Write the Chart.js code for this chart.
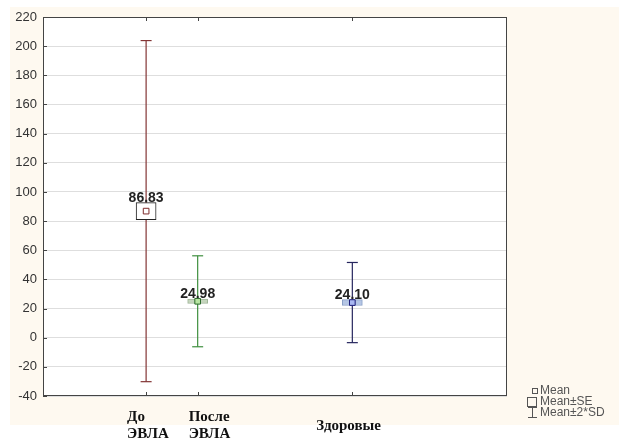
<!DOCTYPE html>
<html>
<head>
<meta charset="utf-8">
<script src="https://cdn.jsdelivr.net/npm/chart.js@4"></script>
<style>
html,body{margin:0;padding:0;background:#fff}
#wrap{width:619px;height:441px;position:relative}
</style>
</head>
<body>
<div id="wrap"><canvas id="chart"></canvas></div>
<script>
// groups and their stats
const groupLabels = [['До', 'ЭВЛА'], ['После', 'ЭВЛА'], ['Здоровые']];
const xPos = [2, 3, 6];
const means = [86.83, 24.98, 24.10];
const se = [5.8, 1.5, 2.0];
const sd2 = [117.0, 31.2, 27.5];
const legendNames = ['Mean', 'Mean±SE', 'Mean±2*SD'];

const lineCol = ['#833535', '#3f8f3f', '#26265e'];
const boxFill = ['#ffffff', '#c5d5bd', '#b5c6e5'];
const boxEdge = ['#222222', '#9fb598', '#8aa0c7'];
const dotFill = ['#ffffff', '#b8e4a2', '#a9b8f2'];
const dotEdge = ['#7d2b2b', '#2b6a2b', '#1c1c78'];

const whiskers = xPos.map((x, i) => ({
  type: 'line',
  order: 3,
  data: [{x: x, y: means[i] - sd2[i]}, {x: x, y: means[i] + sd2[i]}],
  borderColor: lineCol[i],
  borderWidth: 1.2,
  pointStyle: 'line',
  pointRadius: 5.5,
  pointBorderColor: lineCol[i],
  pointBorderWidth: 1.2,
  showLine: true
}));

const boxes = {
  type: 'bar',
  order: 2,
  data: xPos.map((x, i) => ({x: x, y: [means[i] - se[i], means[i] + se[i]]})),
  backgroundColor: boxFill,
  borderColor: boxEdge,
  borderWidth: 1,
  borderSkipped: false,
  barThickness: 20,
  grouped: false
};

const dots = {
  type: 'scatter',
  order: 1,
  data: xPos.map((x, i) => ({x: x, y: means[i]})),
  pointStyle: 'rect',
  pointRadius: 4,
  backgroundColor: dotFill,
  borderColor: dotEdge,
  borderWidth: 1
};

const background = {
  id: 'background',
  beforeDraw(chart) {
    const {ctx, chartArea: a} = chart;
    ctx.save();
    ctx.fillStyle = '#ffffff';
    ctx.fillRect(0, 0, chart.width, chart.height);
    ctx.fillStyle = '#fef9f0';
    ctx.fillRect(10, 7, chart.width - 10, 418);
    ctx.fillStyle = '#ffffff';
    ctx.fillRect(a.left, a.top, a.right - a.left, a.bottom - a.top);
    ctx.restore();
  }
};

const decorations = {
  id: 'decorations',
  afterDatasetsDraw(chart) {
    const {ctx, chartArea: a, scales: {x, y}} = chart;
    ctx.save();
    // frame
    ctx.strokeStyle = '#444';
    ctx.lineWidth = 1;
    ctx.strokeRect(a.left + 0.5, a.top + 0.5, a.right - a.left - 1, a.bottom - a.top - 1);
    // inner tick marks
    ctx.beginPath();
    xPos.forEach(v => {
      const px = Math.round(x.getPixelForValue(v)) + 0.5;
      ctx.moveTo(px, a.bottom); ctx.lineTo(px, a.bottom - 4);
      ctx.moveTo(px, a.top); ctx.lineTo(px, a.top + 4);
    });
    y.ticks.forEach(t => {
      const py = Math.round(y.getPixelForValue(t.value)) + 0.5;
      ctx.moveTo(a.left, py); ctx.lineTo(a.left + 4, py);
    });
    ctx.stroke();

    // value labels above the SE boxes
    ctx.fillStyle = '#222';
    ctx.font = 'bold 14px "Liberation Sans", Arial, sans-serif';
    ctx.textAlign = 'center';
    ctx.textBaseline = 'bottom';
    means.forEach((m, i) => {
      const px = x.getPixelForValue(xPos[i]);
      const py = y.getPixelForValue(m + se[i]);
      ctx.fillText(m.toFixed(2), px, py + 2);
    });

    // group names under the axis
    ctx.fillStyle = '#111';
    ctx.font = 'bold 15px "Liberation Serif", "DejaVu Serif", serif';
    ctx.textAlign = 'left';
    ctx.textBaseline = 'alphabetic';
    const dx = [-19, -9, -36];
    groupLabels.forEach((lines, i) => {
      const px = x.getPixelForValue(xPos[i]) + dx[i];
      if (lines.length === 1) {
        ctx.fillText(lines[0], px, 430);
      } else {
        ctx.fillText(lines[0], px, 421);
        ctx.fillText(lines[1], px, 438);
      }
    });

    // legend
    ctx.strokeStyle = '#555';
    ctx.fillStyle = '#555';
    ctx.font = '12px "Liberation Sans", Arial, sans-serif';
    ctx.textBaseline = 'middle';
    const lx = 531, ly = 391;
    ctx.strokeRect(lx + 1.5, ly - 2.5, 5, 5);
    ctx.fillText(legendNames[0], lx + 9, ly);
    ctx.strokeRect(lx - 3.5, ly + 6.5, 9, 9);
    ctx.fillText(legendNames[1], lx + 9, ly + 11);
    ctx.beginPath();
    ctx.moveTo(lx - 3, ly + 16.5); ctx.lineTo(lx + 6, ly + 16.5);
    ctx.moveTo(lx + 1.5, ly + 16.5); ctx.lineTo(lx + 1.5, ly + 26.5);
    ctx.moveTo(lx - 3, ly + 26.5); ctx.lineTo(lx + 6, ly + 26.5);
    ctx.stroke();
    ctx.fillText(legendNames[2], lx + 9, ly + 22);
    ctx.restore();
  }
};

new Chart(document.getElementById('chart'), {
  type: 'bar',
  data: {datasets: [...whiskers, boxes, dots]},
  options: {
    responsive: true,
    maintainAspectRatio: false,
    animation: false,
    layout: {padding: {left: 0, top: 17, right: 112, bottom: 45}},
    plugins: {legend: {display: false}, tooltip: {enabled: false}},
    scales: {
      x: {
        type: 'linear',
        min: 0,
        max: 9,
        offset: false,
        display: false
      },
      y: {
        min: -40,
        max: 220,
        afterFit(s) { s.width = 43; },
        ticks: {
          stepSize: 20,
          padding: 6,
          color: '#333',
          font: {family: '"Liberation Sans", Arial, sans-serif', size: 13}
        },
        grid: {color: '#dedede', drawTicks: false},
        border: {display: false}
      }
    }
  },
  plugins: [background, decorations]
});
</script>
</body>
</html>
